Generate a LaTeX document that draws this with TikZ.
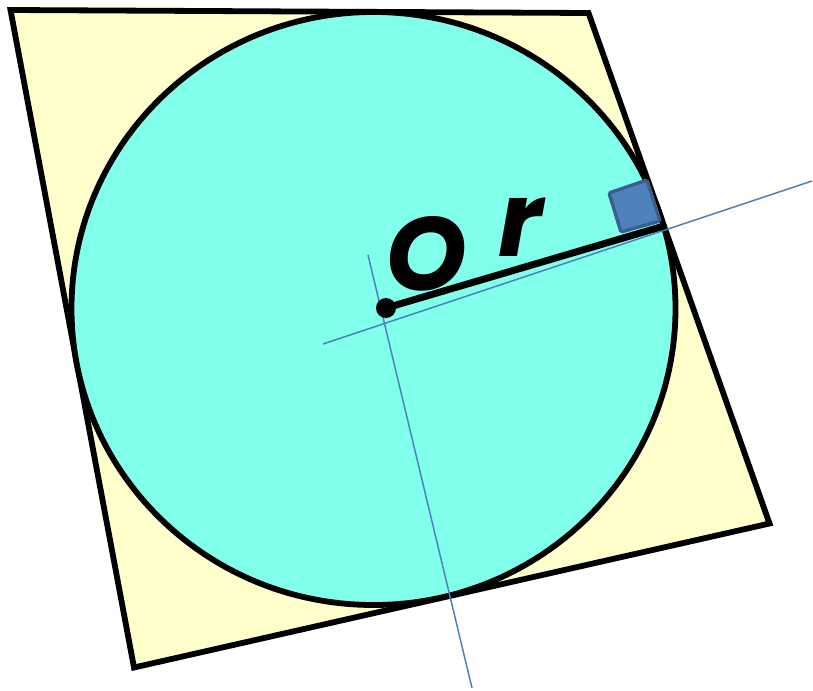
\documentclass[tikz,border=0pt]{standalone}
\usepackage{fontspec}
\usepackage{xcolor}
\usepackage{tikz}
\usetikzlibrary{calc}
\newfontfamily\labelfont{Poppins}

\definecolor{quadfill}{RGB}{255,255,204}
\definecolor{diskfill}{RGB}{128,255,234}
\definecolor{axisblue}{RGB}{79,129,189}
\definecolor{markedge}{RGB}{58,95,140}

\begin{document}
\begin{tikzpicture}[x=1pt, y=-1pt,
  edge/.style={draw=black, line width=5.8pt, line join=miter},
  guide/.style={axisblue, line width=1.5pt},
  lbl/.style={font=\fontsize{104}{104}\labelfont\bfseries\itshape, inner sep=0pt},
  rightmark/.style={fill=axisblue, draw=markedge, line width=3.4pt, rounded corners=1.5pt}
]
\useasboundingbox (0,0) rectangle (813,690);

% tangential quadrilateral
\coordinate (qA) at (10.5,10);
\coordinate (qB) at (588.5,13);
\coordinate (qC) at (769.5,523.5);
\coordinate (qD) at (134,667.5);
\filldraw[edge, fill=quadfill] (qA) -- (qB) -- (qC) -- (qD) -- cycle;

% inscribed circle
\coordinate (cen) at (373.5,308.5);
\filldraw[edge, fill=diskfill] (cen) ellipse [x radius=302, y radius=296.5];

% guide lines
\coordinate (g1a) at (323,344);
\coordinate (g1b) at (812,181);
\coordinate (g2a) at (368,255);
\coordinate (g2b) at (472,688);
\draw[guide] (g1a) -- (g1b);
\draw[guide] (g2a) -- (g2b);

% right-angle mark
\coordinate (m1) at (609,193);
\coordinate (m2) at (647,180);
\coordinate (m3) at (660,221);
\coordinate (m4) at (621,232);
\filldraw[rightmark] (m1) -- (m2) -- (m3) -- (m4) -- cycle;

% radius
\coordinate (ctr) at (386,308);
\coordinate (tan) at (664,226);
\draw[black, line width=7pt] (ctr) -- (tan);
\fill[black] (ctr) circle (10);

\node[lbl] (labO) at (426,254) {O};
\node[lbl] (labr) at (521,227) {r};
\end{tikzpicture}
\end{document}
